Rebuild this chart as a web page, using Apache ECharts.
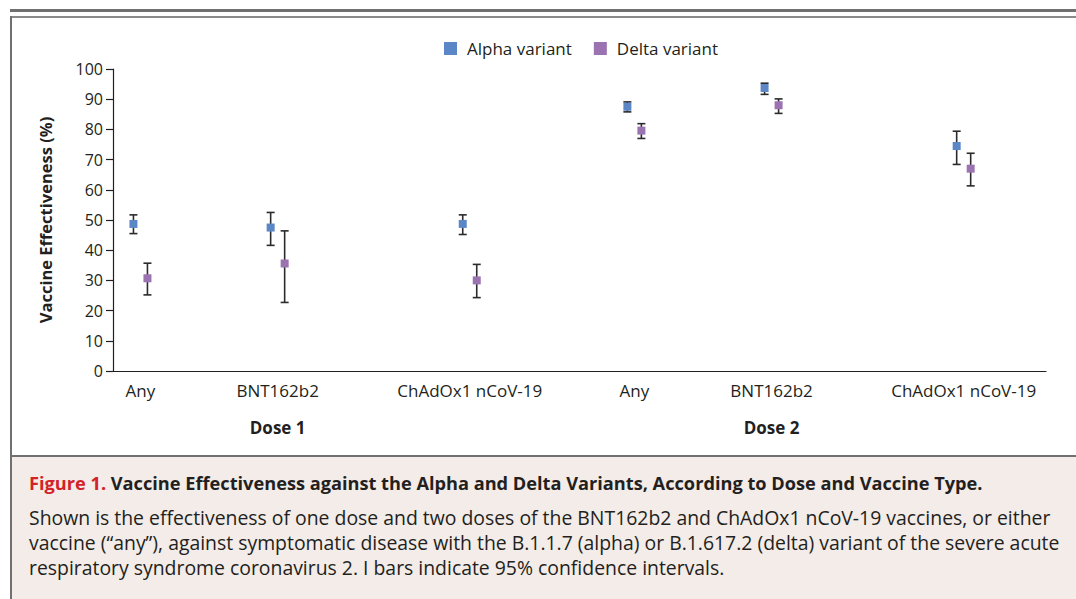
<!DOCTYPE html>
<html>
<head>
<meta charset="utf-8">
<script src="https://cdn.jsdelivr.net/npm/echarts@6/dist/echarts.min.js"></script>
<style>
  html, body { margin: 0; padding: 0; background: #fff; }
  #wrap { position: relative; width: 1076px; height: 599px; overflow: hidden; font-family: "Open Sans", sans-serif; color: #231f20; }
  #topline { position: absolute; left: 10px; top: 9px; width: 1066px; height: 3px; background: #707070; }
  #frametop { position: absolute; left: 10px; top: 16px; width: 1066px; height: 2px; background: #8a8a8a; }
  #frameleft { position: absolute; left: 10px; top: 16px; width: 2px; height: 583px; background: #707070; }
  #chart { position: absolute; left: 0; top: 0; width: 1076px; height: 456px; }
  #caption { position: absolute; left: 12px; top: 455px; width: 1064px; height: 144px; background: #f3ece8; border-top: 2px solid #707070; }
  #caption .title { position: absolute; left: 17px; top: 14px; font-size: 18.2px; font-weight: bold; white-space: nowrap; }
  #caption .title span { color: #d2232a; }
  #caption .body { position: absolute; left: 17px; top: 48px; font-size: 19.4px; line-height: 25px; white-space: nowrap; }
</style>
</head>
<body>
<div id="wrap">
  <div id="topline"></div>
  <div id="frametop"></div>
  <div id="frameleft"></div>
  <div id="chart"></div>
  <div id="caption">
    <div class="title"><span>Figure 1.</span> Vaccine Effectiveness against the Alpha and Delta Variants, According to Dose and Vaccine Type.</div>
    <div class="body">Shown is the effectiveness of one dose and two doses of the BNT162b2 and ChAdOx1 nCoV-19 vaccines, or either<br>vaccine (“any”), against symptomatic disease with the B.1.1.7 (alpha) or B.1.617.2 (delta) variant of the severe acute<br>respiratory syndrome coronavirus 2. I bars indicate 95% confidence intervals.</div>
  </div>
</div>
<script>
// groups on the x axis
const vaccines = ['Any', 'BNT162b2', 'ChAdOx1 nCoV-19', 'Any', 'BNT162b2', 'ChAdOx1 nCoV-19'];
const doses = ['Dose 1', 'Dose 2'];
const yTicks = [0, 10, 20, 30, 40, 50, 60, 70, 80, 90, 100];

// vaccine effectiveness (%) and 95% CI
const alphaVE   = [48.7, 47.5, 48.7, 87.5, 93.7, 74.5];
const alphaLow  = [45.5, 41.6, 45.2, 85.8, 91.6, 68.4];
const alphaHigh = [51.7, 52.5, 51.7, 89.1, 95.3, 79.4];
const deltaVE   = [30.7, 35.6, 30.0, 79.6, 88.0, 67.0];
const deltaLow  = [25.2, 22.7, 24.3, 77.0, 85.3, 61.3];
const deltaHigh = [35.7, 46.4, 35.3, 81.9, 90.1, 72.1];

// layout: slot of each group on an evenly spaced category axis
const slotCount = 35;
const slots = [1, 6, 13, 19, 24, 31];
const doseSlot = { 6: 0, 24: 1 };

const axisCats = [];
for (let i = 0; i < slotCount; i++) axisCats.push('');
slots.forEach((s, i) => { axisCats[s] = vaccines[i]; });

const font = '"Open Sans", sans-serif';
const ink = '#231f20';
const barColor = '#2b2b2b';

function errorBars(dx) {
  return function (params, api) {
    const x = api.value(0);
    const lo = api.coord([x, api.value(1)]);
    const hi = api.coord([x, api.value(2)]);
    const cx = lo[0] + dx;
    const st = { stroke: barColor, lineWidth: 1.6 };
    return {
      type: 'group',
      children: [
        { type: 'line', shape: { x1: cx, y1: lo[1], x2: cx, y2: hi[1] }, style: st },
        { type: 'line', shape: { x1: cx - 4, y1: lo[1], x2: cx + 4, y2: lo[1] }, style: st },
        { type: 'line', shape: { x1: cx - 4, y1: hi[1], x2: cx + 4, y2: hi[1] }, style: st }
      ]
    };
  };
}

const chart = echarts.init(document.getElementById('chart'), null, { renderer: 'svg' });
chart.setOption({
  animation: false,
  textStyle: { fontFamily: font, color: ink },
  legend: {
    data: ['Alpha variant', 'Delta variant'],
    left: 439, top: 35,
    icon: 'rect', itemWidth: 13, itemHeight: 13, itemGap: 22,
    textStyle: { fontSize: 17, color: ink, fontFamily: font, padding: [0, 0, 0, 5] }
  },
  grid: { left: 113, top: 69, width: 933, height: 302 },
  xAxis: {
    type: 'category',
    data: axisCats,
    boundaryGap: false,
    axisLine: { lineStyle: { color: ink, width: 1.2 } },
    axisTick: { show: false },
    splitLine: { show: false },
    axisLabel: {
      interval: 0, margin: 9, color: ink, fontSize: 17, fontFamily: font, lineHeight: 20,
      formatter: function (v, i) {
        if (!v) return '';
        if (doseSlot[i] !== undefined) return v + '\n{d|' + doses[doseSlot[i]] + '}';
        return v;
      },
      rich: { d: { fontWeight: 'bold', fontSize: 17, lineHeight: 54, color: ink, fontFamily: font } }
    }
  },
  yAxis: {
    type: 'value', min: yTicks[0], max: yTicks[yTicks.length - 1], interval: 10,
    name: 'Vaccine Effectiveness (%)', nameLocation: 'middle', nameGap: 59, nameRotate: 90,
    nameTextStyle: { fontSize: 16.5, fontWeight: 'bold', color: ink, fontFamily: font },
    axisLine: { show: true, lineStyle: { color: ink, width: 1.2 } },
    axisTick: { show: true, length: 7, lineStyle: { color: ink, width: 1.2 } },
    splitLine: { show: false },
    axisLabel: { margin: 10, fontSize: 16, color: ink, fontFamily: font }
  },
  series: [
    { name: 'alpha CI', type: 'custom', renderItem: errorBars(-7), encode: { x: 0, y: [1, 2] }, z: 2,
      data: slots.map((s, i) => [s, alphaLow[i], alphaHigh[i]]) },
    { name: 'delta CI', type: 'custom', renderItem: errorBars(7), encode: { x: 0, y: [1, 2] }, z: 2,
      data: slots.map((s, i) => [s, deltaLow[i], deltaHigh[i]]) },
    { name: 'Alpha variant', type: 'scatter', symbol: 'rect', symbolSize: 8, symbolOffset: [-7, 0], z: 3,
      itemStyle: { color: '#5b87c7', opacity: 1 },
      data: slots.map((s, i) => [s, alphaVE[i]]) },
    { name: 'Delta variant', type: 'scatter', symbol: 'rect', symbolSize: 8, symbolOffset: [7, 0], z: 3,
      itemStyle: { color: '#9b73b1', opacity: 1 },
      data: slots.map((s, i) => [s, deltaVE[i]]) }
  ]
});
</script>
</body>
</html>
